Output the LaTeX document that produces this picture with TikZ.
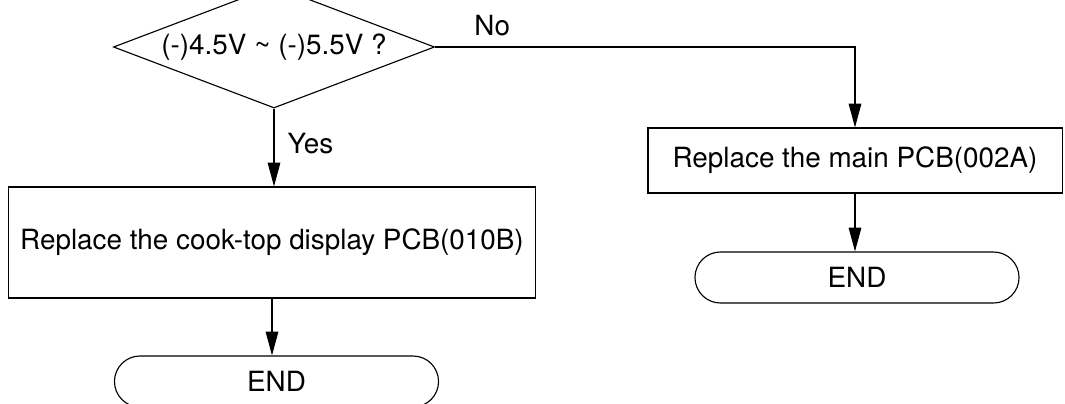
\documentclass[tikz,border=0pt]{standalone}
\usepackage{fontspec}
\setmainfont{TeX Gyre Heros}
\usetikzlibrary{shapes.geometric, shapes.misc, arrows.meta}
\tikzset{
    decision/.style={draw, shape=diamond, aspect=2.63, inner sep=0pt,
        minimum width=8.025cm, minimum height=3.05cm},
    process/.style={draw, rectangle, inner sep=0pt},
    terminal/.style={draw, rounded rectangle, inner sep=0pt,
        minimum width=8.1cm, minimum height=1.275cm},
    flow/.style={-{Triangle[length=17pt, width=9pt]}}
}
\begin{document}
\begin{tikzpicture}[x=0.025cm, y=-0.025cm, line width=0.8pt,
        font=\fontsize{19.8}{23}\selectfont]
            \clip (0,0) rectangle (1065,403);
            % question
            \node[decision] (check) at (274,47) {(-)4.5V \textasciitilde{} (-)5.5V ?};
            % yes branch
            \node[process, minimum width=13.175cm, minimum height=2.775cm] (cooktop) at (272,242.5)
                {Replace the cook-top display PCB(010B)};
            \node[terminal] (endyes) at (276.5,381.5) {END};
            % no branch
            \node[process, minimum width=10.35cm, minimum height=1.625cm] (mainpcb) at (855,160.5)
                {Replace the main PCB(002A)};
            \node[terminal] (endno) at (857,277.5) {END};
            % connectors
            \draw[flow] (check.south) -- (check.south |- cooktop.north)
                node[pos=0.45, right=6pt] {Yes};
            \draw[flow] (cooktop.south) -- (cooktop.south |- endyes.north);
            \draw[flow] (check.east) -| (mainpcb.north)
                node[pos=0.068, above=4pt] {No};
            \draw[flow] (mainpcb.south) -- (mainpcb.south |- endno.north);
        \end{tikzpicture}
\end{document}
